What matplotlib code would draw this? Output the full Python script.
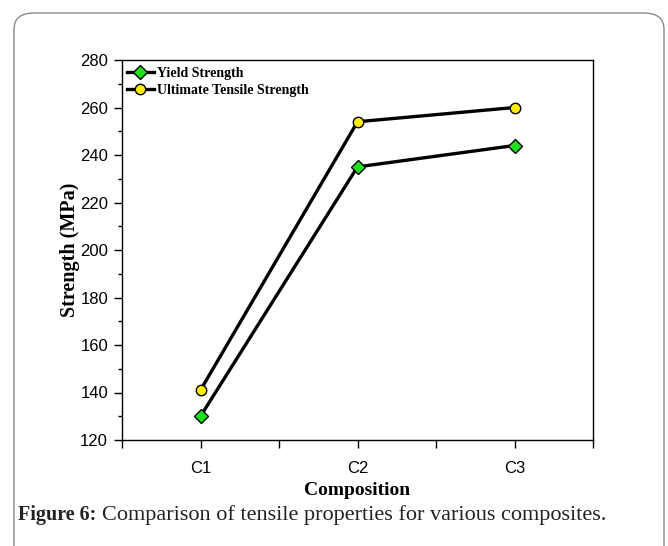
import matplotlib
matplotlib.use('Agg')
import matplotlib.pyplot as plt
from matplotlib.patches import FancyBboxPatch
from matplotlib.ticker import MultipleLocator

# Tensile results for each composite
compositions = ['C1', 'C2', 'C3']
yield_strength = [130, 235, 244]
uts = [141, 254, 260]

fig = plt.figure(figsize=(6.68, 5.46), dpi=100)

# rounded panel behind the figure
panel = FancyBboxPatch((14 / 668, -0.1), 650 / 668, 1 - 13 / 546 + 0.1,
                       boxstyle='round,pad=0,rounding_size=0.03',
                       transform=fig.transFigure, facecolor='none',
                       edgecolor='#8a8a8a', linewidth=1.0, zorder=-1)
fig.patches.append(panel)

ax = fig.add_axes([122 / 668, 1 - 440 / 546, 471 / 668, 380 / 546])
ax.patch.set_alpha(0)

x = [1, 2, 3]
ax.plot(x, yield_strength, color='black', lw=2.4, marker='D', ms=7.5,
        mfc='#1ee01e', mec='black', mew=1.0, label='Yield Strength')
ax.plot(x, uts, color='black', lw=2.4, marker='o', ms=7.5,
        mfc='#ffee00', mec='black', mew=1.0, label='Ultimate Tensile Strength')

ax.set_xlim(0.5, 3.5)
ax.set_ylim(120, 280)
ax.set_xticks(x)
ax.set_xticklabels(compositions)
ax.xaxis.set_minor_locator(MultipleLocator(0.5))
ax.yaxis.set_major_locator(MultipleLocator(20))
ax.yaxis.set_minor_locator(MultipleLocator(10))
ax.tick_params(which='both', direction='out', top=False, right=False,
               labelsize=12, width=1.0)
ax.tick_params(which='major', length=6, pad=4)
ax.tick_params(which='minor', length=3)
ax.tick_params(axis='x', which='major', pad=9)
for lbl in ax.get_xticklabels() + ax.get_yticklabels():
    lbl.set_fontfamily('Liberation Sans')
ax.xaxis.set_tick_params(which='minor', length=6)
for s in ax.spines.values():
    s.set_linewidth(1.0)

ax.set_ylabel('Strength (MPa)', fontfamily='Liberation Serif',
              fontweight='bold', fontsize=14.5)
ax.set_xlabel('Composition', fontfamily='Liberation Serif',
              fontweight='bold', fontsize=14)
ax.yaxis.set_label_coords(-0.09, 0.5)
ax.xaxis.set_label_coords(0.5, -0.11)

leg = ax.legend(loc='upper left', frameon=False, borderaxespad=0.3,
                borderpad=0.2, handlelength=2.0, handletextpad=0.2,
                labelspacing=0.3,
                prop={'family': 'Liberation Serif', 'weight': 'bold', 'size': 10})
leg.set_bbox_to_anchor((-0.005, 1.0), transform=ax.transAxes)

fig.text(18 / 668, 1 - 515 / 546, 'Figure 6:', fontfamily='Liberation Serif',
         fontweight='bold', fontsize=14.5, va='center', ha='left', color='#222222')
fig.text(102 / 668, 1 - 515 / 546,
         'Comparison of tensile properties for various composites.',
         fontfamily='Liberation Serif', fontsize=16, va='center', ha='left',
         color='#222222')

fig.savefig('out.png', dpi=100)
